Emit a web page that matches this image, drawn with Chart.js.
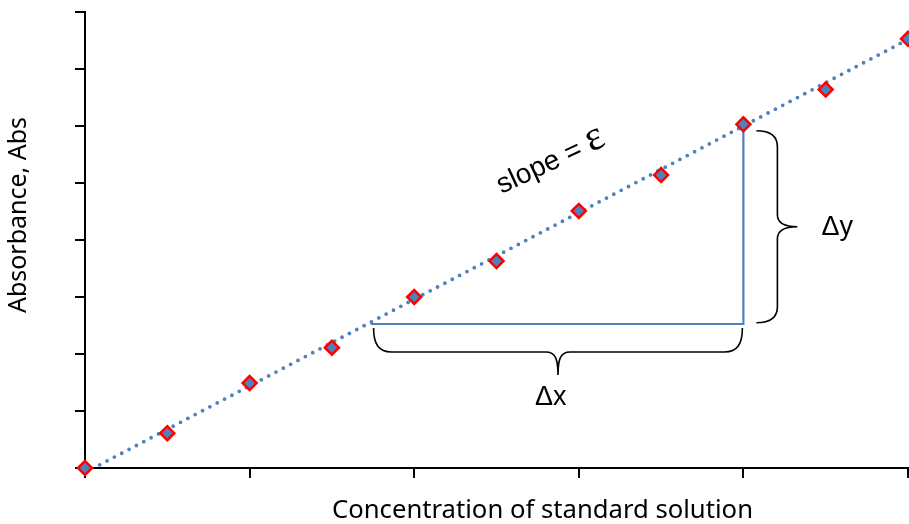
<!DOCTYPE html>
<html><head><meta charset="utf-8">
<style>html,body{margin:0;padding:0;background:#fff;} #wrap{width:909px;height:524px;position:relative;}</style>
<script src="https://cdn.jsdelivr.net/npm/chart.js@4.4.0/dist/chart.umd.min.js"></script>
</head><body><div id="wrap"><canvas id="c" width="909" height="524"></canvas></div>
<script>
const concentration = [0, 1, 2, 3, 4, 5, 6, 7, 8, 9, 10];
const absorbance = [0, 0.61, 1.49, 2.11, 3.00, 3.63, 4.51, 5.14, 6.03, 6.64, 7.53];
const trendX = [0, 10];
const trendY = [-0.08, 7.52];
const deltaX = [3.47, 8, 8];
const deltaY = [2.526, 2.526, 6.03];
const xTicks = [0, 2, 4, 6, 8, 10];
const yTicks = [0, 1, 2, 3, 4, 5, 6, 7, 8];
const xTitle = 'Concentration of standard solution';
const yTitle = 'Absorbance, Abs';
const slopeText = 'slope = ';
const epsText = 'ε';
const dxText = 'Δx';
const dyText = 'Δy';

const BLUE = '#4F81BD';

function fitFont(ctx, text, family, width) {
  ctx.font = '20px ' + family;
  const w = ctx.measureText(text).width;
  const size = 20 * width / w;
  ctx.font = size.toFixed(2) + 'px ' + family;
}

const annot = {
  id: 'annot',
  afterDatasetsDraw(chart) {
    const ctx = chart.ctx;
    const xs = chart.scales.x, ys = chart.scales.y;
    const hx0 = xs.getPixelForValue(deltaX[0]);
    const hx1 = xs.getPixelForValue(deltaX[1]);
    const hy = ys.getPixelForValue(deltaY[0]);
    const vTop = ys.getPixelForValue(deltaY[2]);
    ctx.save();
    ctx.strokeStyle = '#000';
    ctx.lineWidth = 1.6;
    // bottom brace
    const L = hx0 + 3, R = hx1 - 1, top = hy + 4, lvl = hy + 28, tip = hy + 51;
    const mx = (L + R) / 2;
    ctx.beginPath();
    ctx.moveTo(L, top);
    ctx.bezierCurveTo(L, lvl - 8, L + 5, lvl, L + 18, lvl);
    ctx.lineTo(mx - 12, lvl);
    ctx.bezierCurveTo(mx - 3, lvl, mx, lvl + 6, mx, tip);
    ctx.moveTo(mx, tip);
    ctx.bezierCurveTo(mx, lvl + 6, mx + 3, lvl, mx + 12, lvl);
    ctx.lineTo(R - 18, lvl);
    ctx.bezierCurveTo(R - 5, lvl, R, lvl - 8, R, top);
    ctx.stroke();
    // right brace
    const bx0 = hx1 + 13, bv = hx1 + 34, btip = hx1 + 54;
    const t0 = vTop + 6.5, b0 = hy - 1.3, my = (t0 + b0) / 2;
    ctx.beginPath();
    ctx.moveTo(bx0, t0);
    ctx.bezierCurveTo(bv - 7, t0, bv, t0 + 5, bv, t0 + 16);
    ctx.lineTo(bv, my - 12);
    ctx.bezierCurveTo(bv, my - 3, bv + 8, my, btip, my);
    ctx.moveTo(btip, my);
    ctx.bezierCurveTo(bv + 8, my, bv, my + 3, bv, my + 12);
    ctx.lineTo(bv, b0 - 16);
    ctx.bezierCurveTo(bv, b0 - 5, bv - 7, b0, bx0, b0);
    ctx.stroke();

    ctx.fillStyle = '#000';
    ctx.textBaseline = 'alphabetic';
    ctx.textAlign = 'left';
    ctx.font = '27px "Liberation Sans", Arial, sans-serif';
    ctx.fillText(dxText, mx - 23, tip + 30);
    ctx.fillText(dyText, btip + 24, my + 8);

    // slope label
    const sx = xs.getPixelForValue(5.06);
    const sy = ys.getPixelForValue(trendY[0] + (trendY[1] - trendY[0]) * 0.5) - 62;
    ctx.save();
    ctx.translate(sx, sy);
    ctx.rotate(-25 * Math.PI / 180);
    ctx.font = '28px "Liberation Sans", Arial, sans-serif';
    ctx.fillText(slopeText, 0, 0);
    const w = ctx.measureText(slopeText).width;
    ctx.font = '42px "Liberation Serif", serif';
    ctx.fillText(epsText, w, 0);
    ctx.restore();

    // axis titles
    fitFont(ctx, xTitle, '"Noto Sans", sans-serif', 421);
    ctx.textAlign = 'center';
    ctx.fillText(xTitle, 542.5, 518);
    ctx.save();
    ctx.translate(26, 215);
    ctx.rotate(-Math.PI / 2);
    fitFont(ctx, yTitle, '"Noto Sans", sans-serif', 196);
    ctx.fillText(yTitle, 0, 0);
    ctx.restore();
    ctx.restore();
  }
};

new Chart(document.getElementById('c'), {
  type: 'scatter',
  data: {
    datasets: [
      {
        data: concentration.map((x, i) => ({ x, y: absorbance[i] })),
        pointStyle: 'rectRot',
        pointRadius: 7,
        pointBorderWidth: 2.5,
        pointBorderColor: '#FF0000',
        pointBackgroundColor: BLUE,
        showLine: false,
        clip: false
      },
      {
        data: deltaX.map((x, i) => ({ x, y: deltaY[i] })),
        showLine: true,
        borderColor: BLUE,
        borderWidth: 2.2,
        pointRadius: 0,
        fill: false
      },
      {
        data: trendX.map((x, i) => ({ x, y: trendY[i] })),
        showLine: true,
        borderColor: BLUE,
        borderWidth: 3.8,
        borderDash: [0, 8.3],
        borderCapStyle: 'round',
        pointRadius: 0,
        fill: false
      }
    ]
  },
  options: {
    responsive: false,
    animation: false,
    devicePixelRatio: 1,
    layout: { padding: { top: 12, right: 1, left: 0, bottom: 0 }, autoPadding: false },
    plugins: { legend: { display: false }, tooltip: { enabled: false } },
    scales: {
      x: {
        type: 'linear', min: 0, max: 10,
        afterBuildTicks: s => { s.ticks = xTicks.map(v => ({ value: v })); },
        ticks: { display: false },
        grid: { drawOnChartArea: false, drawTicks: true, tickLength: 10, lineWidth: 2, color: '#000' },
        border: { color: '#000', width: 2 },
        afterFit: s => { s.height = 56; }
      },
      y: {
        type: 'linear', min: 0, max: 8,
        afterBuildTicks: s => { s.ticks = yTicks.map(v => ({ value: v })); },
        ticks: { display: false },
        grid: { drawOnChartArea: false, drawTicks: true, tickLength: 10, lineWidth: 2, color: '#000' },
        border: { color: '#000', width: 2 },
        afterFit: s => { s.width = 85; }
      }
    }
  },
  plugins: [annot]
});
</script>
</body></html>
